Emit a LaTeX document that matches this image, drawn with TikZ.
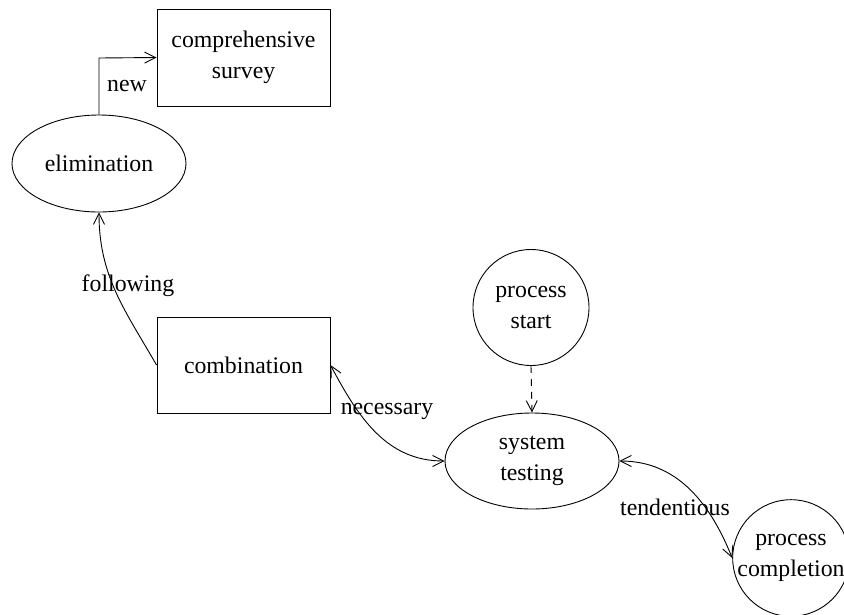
\documentclass[tikz,border=0pt]{standalone}
\usepackage{fontspec}
\setmainfont{Liberation Serif}
\usetikzlibrary{shapes.geometric,arrows.meta}
\begin{document}
\begin{tikzpicture}[x=1pt,y=-1pt,
  every node/.style={font=\fontsize{23.8}{31}\selectfont, align=center, inner sep=0pt},
  boxnode/.style={draw, line width=0.9pt, rectangle, minimum width=173pt, minimum height=97pt},
  ellnode/.style={draw, line width=0.9pt, ellipse, minimum width=174pt, minimum height=97pt},
  circnode/.style={draw, line width=0.9pt, circle, minimum size=116pt},
  conn/.style={line width=0.9pt, -{Straight Barb[length=11pt,width=11pt]}},
  biconn/.style={line width=0.9pt, {Straight Barb[length=11pt,width=11pt]}-{Straight Barb[length=11pt,width=11pt]}},
  lbl/.style={fill=none}]
\useasboundingbox (0,0) rectangle (844,614);
\node[boxnode] (surv) at (243.5,57.5) {comprehensive\\survey};
\node[ellnode] (elim) at (99,163.5) {elimination};
\node[boxnode, minimum height=96pt] (comb) at (243.5,365) {combination};
\node[circnode] (pstart) at (531,307.5) {process\\start};
\node[ellnode, minimum height=96pt] (sys) at (532,461) {system\\testing};
\node[circnode] (pcomp) at (791,558) {process\\completion};
\coordinate (corner) at (99,58);
\draw[conn] (elim.north) -- (corner) -- (surv.west);
\node[lbl] (newl) at (127,86) {new};
\draw[conn] (comb.west) to[out=120, in=-90] (elim.south);
\node[lbl] (foll) at (128,286) {following};
\draw[biconn] (comb.east) to[out=-62, in=180] (sys.west);
\node[lbl] (nec) at (387,411) {necessary};
\draw[conn, dash pattern=on 7pt off 6pt] (pstart.south) -- (sys.north);
\draw[biconn] (sys.east) to[out=0, in=112] (pcomp.west);
\node[lbl] (tend) at (675,507) {tendentious};
\end{tikzpicture}
\end{document}
